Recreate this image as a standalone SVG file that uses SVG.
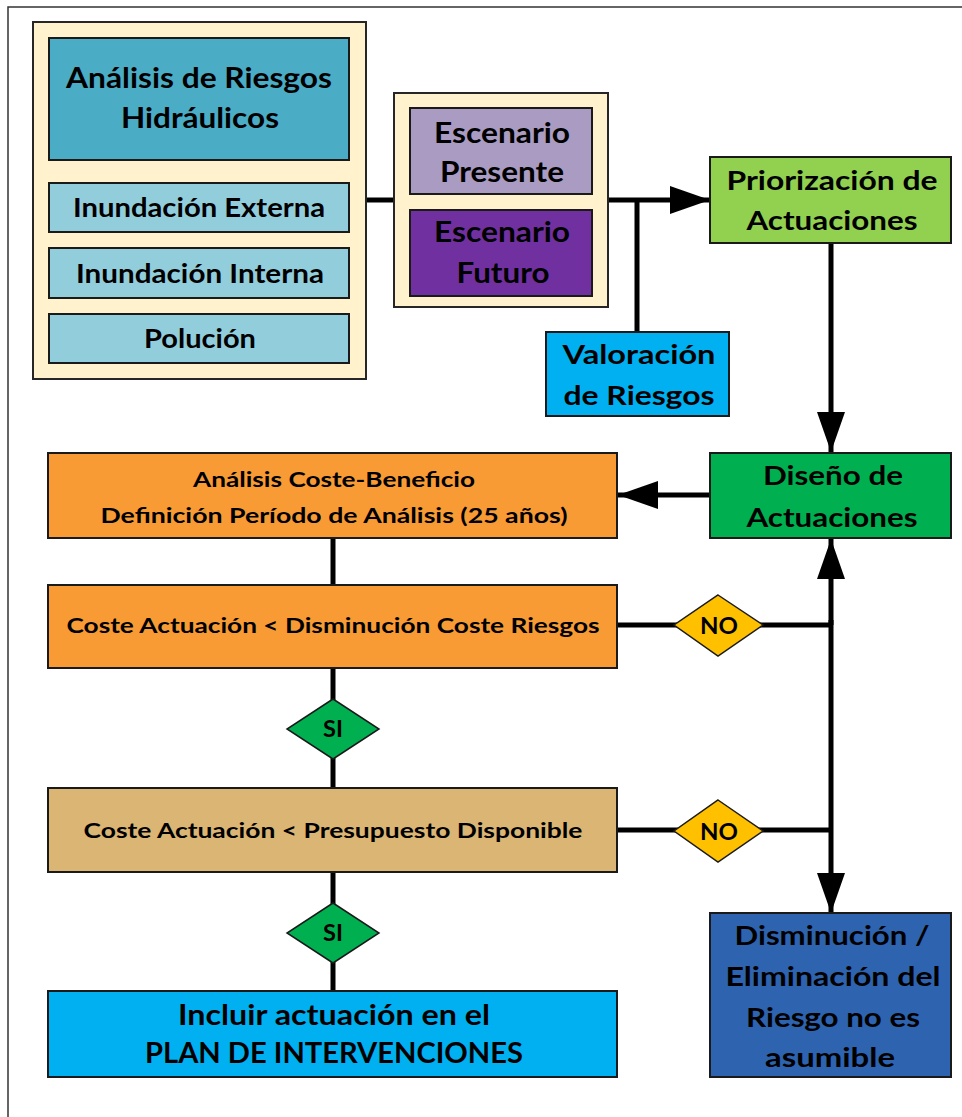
<svg xmlns="http://www.w3.org/2000/svg" width="962" height="1117" viewBox="0 0 962 1117">
  <style>
    .frame { fill: none; stroke: #333333; stroke-width: 1.5; }
    .group { fill: #FFF2CC; stroke: #262626; stroke-width: 2; }
    .box { stroke: #1a1a1a; stroke-width: 2; }
    .diamond { stroke: #1a1a1a; stroke-width: 1.5; }
    .wire { fill: none; stroke: #000000; stroke-width: 5; }
    text { font-family: "Lato", "Liberation Sans", sans-serif; font-weight: bold; fill: #000000; text-anchor: middle; }
    .t28 { font-size: 28px; }
    .t26 { font-size: 26px; }
    .t21 { font-size: 21px; }
    .t22 { font-size: 22px; }
  </style>
  <defs>
    <marker id="head" markerUnits="userSpaceOnUse" markerWidth="42" markerHeight="28" refX="40" refY="14" orient="auto">
      <path d="M0,0 L40,14 L0,28 Z" fill="#000000"/>
    </marker>
  </defs>

  <!-- page frame -->
  <rect class="frame" x="8" y="7" width="1000" height="1200"/>

  <!-- connectors -->
  <g id="connectors">
    <line class="wire" x1="366" y1="200" x2="394" y2="200"/>
    <line class="wire" x1="608" y1="200" x2="710" y2="200" marker-end="url(#head)"/>
    <line class="wire" x1="637" y1="200" x2="637" y2="332"/>
    <line class="wire" x1="831" y1="243" x2="831" y2="452" marker-end="url(#head)"/>
    <line class="wire" x1="710" y1="495" x2="618" y2="495" marker-end="url(#head)"/>
    <line class="wire" x1="333" y1="538" x2="333" y2="585"/>
    <line class="wire" x1="333" y1="668" x2="333" y2="788"/>
    <line class="wire" x1="333" y1="872" x2="333" y2="991"/>
    <line class="wire" x1="617" y1="625" x2="831" y2="625"/>
    <line class="wire" x1="617" y1="830" x2="831" y2="830"/>
    <line class="wire" x1="831" y1="625" x2="831" y2="539" marker-end="url(#head)"/>
    <line class="wire" x1="831" y1="620" x2="831" y2="913" marker-end="url(#head)"/>
  </g>

  <!-- risk analysis group -->
  <g id="riesgos">
    <rect class="group" x="33" y="22" width="333" height="357"/>
    <rect class="box" x="49" y="38" width="300" height="122" fill="#4BACC6"/>
    <text class="t28" x="199" y="88" textLength="266" lengthAdjust="spacingAndGlyphs">Análisis de Riesgos</text>
    <text class="t28" x="200" y="128" textLength="158" lengthAdjust="spacingAndGlyphs">Hidráulicos</text>
  </g>
  <g id="externa">
    <rect class="box" x="49" y="183" width="300" height="49" fill="#92CDDC"/>
    <text class="t26" x="199" y="217" textLength="252" lengthAdjust="spacingAndGlyphs">Inundación Externa</text>
  </g>
  <g id="interna">
    <rect class="box" x="49" y="248" width="300" height="50" fill="#92CDDC"/>
    <text class="t26" x="200" y="283" textLength="248" lengthAdjust="spacingAndGlyphs">Inundación Interna</text>
  </g>
  <g id="polucion">
    <rect class="box" x="49" y="314" width="300" height="49" fill="#92CDDC"/>
    <text class="t26" x="200" y="348" textLength="112" lengthAdjust="spacingAndGlyphs">Polución</text>
  </g>

  <!-- scenarios group -->
  <g id="escenarios">
    <rect class="group" x="394" y="93" width="214" height="214"/>
  </g>
  <g id="presente">
    <rect class="box" x="410" y="108" width="182" height="86" fill="#A99BC1"/>
    <text class="t28" x="502" y="143" textLength="136" lengthAdjust="spacingAndGlyphs">Escenario</text>
    <text class="t28" x="502" y="182" textLength="124" lengthAdjust="spacingAndGlyphs">Presente</text>
  </g>
  <g id="futuro">
    <rect class="box" x="410" y="210" width="182" height="86" fill="#7030A0"/>
    <text class="t28" x="502" y="242" textLength="136" lengthAdjust="spacingAndGlyphs">Escenario</text>
    <text class="t28" x="503" y="283" textLength="93" lengthAdjust="spacingAndGlyphs">Futuro</text>
  </g>

  <g id="valoracion">
    <rect class="box" x="546" y="332" width="183" height="84" fill="#00B0F0"/>
    <text class="t26" x="639" y="364" textLength="153" lengthAdjust="spacingAndGlyphs">Valoración</text>
    <text class="t26" x="639" y="405" textLength="151" lengthAdjust="spacingAndGlyphs">de Riesgos</text>
  </g>

  <g id="priorizacion">
    <rect class="box" x="710" y="157" width="241" height="86" fill="#92D050"/>
    <text class="t26" x="832" y="190" textLength="211" lengthAdjust="spacingAndGlyphs">Priorización de</text>
    <text class="t26" x="832" y="230" textLength="171" lengthAdjust="spacingAndGlyphs">Actuaciones</text>
  </g>

  <g id="diseno">
    <rect class="box" x="710" y="453" width="241" height="85" fill="#00B050"/>
    <text class="t26" x="833" y="485" textLength="140" lengthAdjust="spacingAndGlyphs">Diseño de</text>
    <text class="t26" x="832" y="527" textLength="171" lengthAdjust="spacingAndGlyphs">Actuaciones</text>
  </g>

  <g id="coste-beneficio">
    <rect class="box" x="48" y="453" width="569" height="85" fill="#F99B35"/>
    <text class="t21" x="334" y="487" textLength="282" lengthAdjust="spacingAndGlyphs">Análisis Coste-Beneficio</text>
    <text class="t21" x="334" y="523" textLength="467" lengthAdjust="spacingAndGlyphs">Definición Período de Análisis (25 años)</text>
  </g>

  <g id="disminucion-coste">
    <rect class="box" x="48" y="585" width="569" height="83" fill="#F99B35"/>
    <text class="t21" x="333" y="633" textLength="533" lengthAdjust="spacingAndGlyphs">Coste Actuación &lt; Disminución Coste Riesgos</text>
  </g>

  <g id="presupuesto">
    <rect class="box" x="48" y="788" width="569" height="84" fill="#DBB574"/>
    <text class="t21" x="333" y="838" textLength="499" lengthAdjust="spacingAndGlyphs">Coste Actuación &lt; Presupuesto Disponible</text>
  </g>

  <g id="incluir">
    <rect class="box" x="48" y="991" width="569" height="86" fill="#00B0F0"/>
    <text class="t28" x="334" y="1025" textLength="312" lengthAdjust="spacingAndGlyphs">Incluir actuación en el</text>
    <text class="t28" x="334" y="1063" textLength="378" lengthAdjust="spacingAndGlyphs">PLAN DE INTERVENCIONES</text>
  </g>

  <g id="no-asumible">
    <rect class="box" x="710" y="913" width="241" height="164" fill="#2E63B0"/>
    <text class="t26" x="832" y="945" textLength="195" lengthAdjust="spacingAndGlyphs">Disminución /</text>
    <text class="t26" x="833" y="986" textLength="215" lengthAdjust="spacingAndGlyphs">Eliminación del</text>
    <text class="t26" x="833" y="1027" textLength="174" lengthAdjust="spacingAndGlyphs">Riesgo no es</text>
    <text class="t26" x="830" y="1067" textLength="130" lengthAdjust="spacingAndGlyphs">asumible</text>
  </g>

  <!-- decision diamonds -->
  <g id="si-1">
    <polygon class="diamond" points="333,699 379,729 333,759 287,729" fill="#00B050"/>
    <text class="t22" x="333" y="737" textLength="20" lengthAdjust="spacingAndGlyphs">SI</text>
  </g>
  <g id="si-2">
    <polygon class="diamond" points="333,903 379,933 333,963 287,933" fill="#00B050"/>
    <text class="t22" x="333" y="941" textLength="20" lengthAdjust="spacingAndGlyphs">SI</text>
  </g>
  <g id="no-1">
    <polygon class="diamond" points="718,595 763,625 718,656 674,625" fill="#FFC000"/>
    <text class="t22" x="719" y="634" textLength="38" lengthAdjust="spacingAndGlyphs">NO</text>
  </g>
  <g id="no-2">
    <polygon class="diamond" points="718,800 763,831 718,862 674,831" fill="#FFC000"/>
    <text class="t22" x="719" y="840" textLength="38" lengthAdjust="spacingAndGlyphs">NO</text>
  </g>
</svg>
